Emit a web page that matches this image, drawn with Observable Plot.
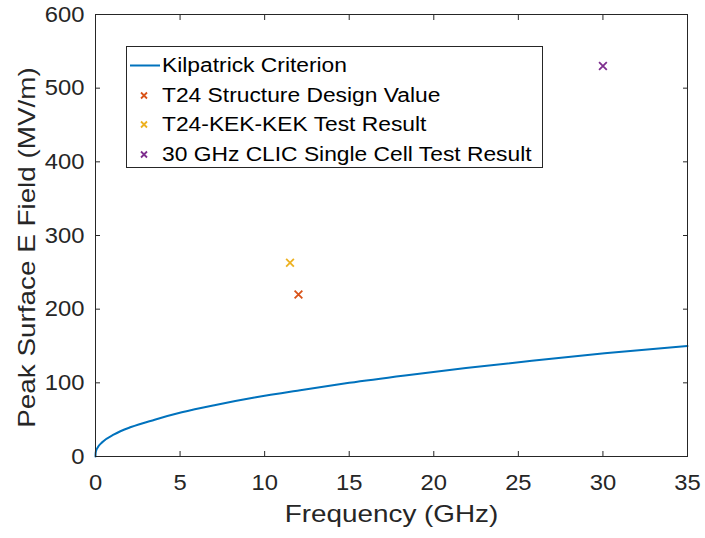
<!DOCTYPE html>
<html><head><meta charset="utf-8">
<script src="https://cdn.jsdelivr.net/npm/d3@7"></script>
<script src="https://cdn.jsdelivr.net/npm/@observablehq/plot@0.6"></script>
<style>
body{margin:0;background:#fff;font-family:"Liberation Sans",Arial,sans-serif;}
#wrap{position:relative;width:705px;height:538px;}
.legend{position:absolute;left:126px;top:46px;width:417px;height:122px;border:1px solid #262626;background:#fff;box-sizing:border-box;padding-top:4px;font-size:20px;color:#000;}
.row{display:flex;align-items:center;height:29.5px;white-space:nowrap;}
.row svg{flex:none;}
.row span{display:inline-block;transform:scaleX(1.14);transform-origin:left center;}
</style>
</head><body>
<div id="wrap"></div>
<script>
// Kilpatrick criterion curve
const kilFreq  = [0, 0.01, 0.07, 0.43, 1.1, 2.1, 3.5, 5.1, 7.1, 9.4, 12.1, 15.0, 18.3, 21.9, 25.8, 30.1, 35];
const kilField = [0, 5, 10, 20, 30, 40, 50, 60, 70, 80, 90, 100, 110, 120, 130, 140, 150];

// test points
const pointNames  = ["T24 Structure Design Value", "T24-KEK-KEK Test Result", "30 GHz CLIC Single Cell Test Result"];
const pointFreq   = [12, 11.5, 30];
const pointField  = [220, 263, 530];
const pointColors = ["#D95319", "#EDB120", "#7E2F8E"];

const lineName = "Kilpatrick Criterion";
const lineColor = "#0072BD";

const xTicks = [0, 5, 10, 15, 20, 25, 30, 35];
const yTicks = [0, 100, 200, 300, 400, 500, 600];
const xTitle = "Frequency (GHz)";
const yTitle = "Peak Surface E Field (MV/m)";

const curve = kilFreq.map((f, i) => ({f, e: kilField[i]}));
const points = pointNames.map((n, i) => ({name: n, f: pointFreq[i], e: pointField[i], color: pointColors[i]}));

const axisColor = "#262626";
const font = "'Liberation Sans', Arial, sans-serif";

const chart = Plot.plot({
  width: 705, height: 538,
  marginLeft: 95, marginRight: 18, marginTop: 14, marginBottom: 82,
  style: {fontFamily: font, background: "white", color: axisColor},
  x: {domain: [0, 35]},
  y: {domain: [0, 600]},
  marks: [
    Plot.line(curve, {x: "f", y: "e", stroke: lineColor, strokeWidth: 2, curve: "monotone-x"}),
    ...points.map(p => Plot.dot([p], {x: "f", y: "e", symbol: "times", r: 3.6, stroke: p.color, strokeWidth: 1.8})),
    Plot.axisX({ticks: xTicks, tickSize: 0, tickPadding: 18, fontSize: 22, fill: axisColor, label: null}),
    Plot.axisX({ticks: xTicks, tickSize: 5, dy: -5, fill: "none", stroke: axisColor, label: null}),
    Plot.axisX({anchor: "top", ticks: xTicks, tickSize: 5, dy: 5, fill: "none", stroke: axisColor, label: null}),
    Plot.axisY({ticks: yTicks, tickSize: 0, tickPadding: 11, fontSize: 22, fill: axisColor, label: null}),
    Plot.axisY({ticks: yTicks, tickSize: 5, dx: 5, fill: "none", stroke: axisColor, label: null}),
    Plot.axisY({anchor: "right", ticks: yTicks, tickSize: 5, dx: -5, fill: "none", stroke: axisColor, label: null}),
    Plot.frame({stroke: axisColor, strokeWidth: 1}),
    Plot.text([xTitle], {frameAnchor: "bottom", dy: 65, text: d => d, fontSize: 24, fill: axisColor}),
    Plot.text([yTitle], {frameAnchor: "left", dx: -68, dy: 12, rotate: -90, textAnchor: "middle", text: d => d, fontSize: 24, fill: axisColor})
  ]
});
const wrap = document.getElementById("wrap");
wrap.appendChild(chart);

// widen glyphs horizontally to match the reference's wider lettering
function stretch(sel, k) {
  chart.querySelectorAll(sel).forEach(t => {
    const w = t.getComputedTextLength();
    t.setAttribute("textLength", (w * k).toFixed(2));
    t.setAttribute("lengthAdjust", "spacingAndGlyphs");
  });
}
stretch('g[aria-label="x-axis tick label"] text', 1.08);
stretch('g[aria-label="y-axis tick label"] text', 1.08);
stretch('g[aria-label="text"] text', 1.16);

// legend
const legend = document.createElement("div");
legend.className = "legend";
const ns = "http://www.w3.org/2000/svg";
function iconSvg(kind, color) {
  const s = document.createElementNS(ns, "svg");
  s.setAttribute("width", 35); s.setAttribute("height", 29);
  if (kind === "line") {
    const l = document.createElementNS(ns, "line");
    l.setAttribute("x1", 3); l.setAttribute("x2", 33); l.setAttribute("y1", 14.5); l.setAttribute("y2", 14.5);
    l.setAttribute("stroke", color); l.setAttribute("stroke-width", 2);
    s.appendChild(l);
  } else {
    const p = document.createElementNS(ns, "path");
    const c = 17, r = 3;
    p.setAttribute("d", `M${c-r},${14.5-r}L${c+r},${14.5+r}M${c-r},${14.5+r}L${c+r},${14.5-r}`);
    p.setAttribute("stroke", color); p.setAttribute("stroke-width", 1.8); p.setAttribute("fill", "none");
    s.appendChild(p);
  }
  return s;
}
const entries = [{name: lineName, kind: "line", color: lineColor}, ...points.map(p => ({name: p.name, kind: "x", color: p.color}))];
entries.forEach(e => {
  const row = document.createElement("div");
  row.className = "row";
  row.appendChild(iconSvg(e.kind, e.color));
  const t = document.createElement("span");
  t.textContent = e.name;
  row.appendChild(t);
  legend.appendChild(row);
});
wrap.appendChild(legend);
</script>
</body></html>
